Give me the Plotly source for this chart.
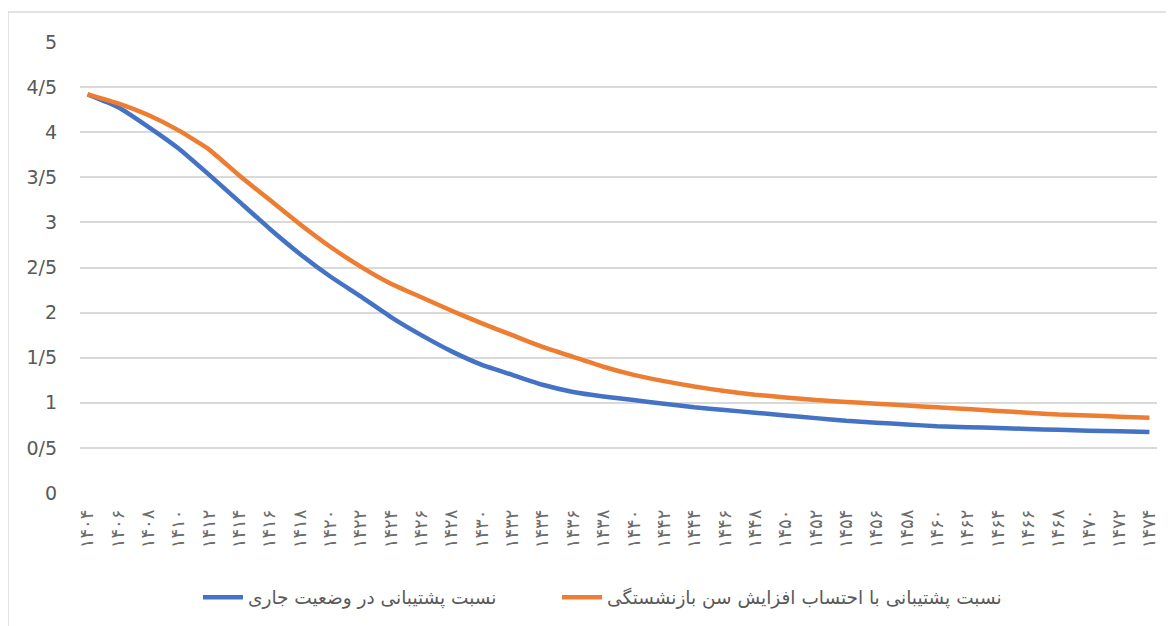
import plotly.graph_objects as go

years = list(range(1404, 1475, 2))
current = [4.42, 4.28, 4.06, 3.82, 3.53, 3.23, 2.93, 2.65, 2.40, 2.18,
           1.95, 1.75, 1.57, 1.42, 1.31, 1.20, 1.12, 1.07, 1.03, 0.99,
           0.95, 0.92, 0.89, 0.86, 0.83, 0.80, 0.78, 0.76, 0.74, 0.73,
           0.72, 0.71, 0.70, 0.69, 0.685, 0.675]
retire = [4.42, 4.32, 4.19, 4.02, 3.81, 3.52, 3.25, 2.98, 2.73, 2.51,
          2.32, 2.17, 2.02, 1.88, 1.75, 1.62, 1.51, 1.40, 1.31, 1.24,
          1.18, 1.13, 1.09, 1.06, 1.03, 1.01, 0.99, 0.97, 0.95, 0.93,
          0.91, 0.89, 0.87, 0.86, 0.845, 0.835]
name_current = "نسبت پشتیبانی در وضعیت جاری"
name_retire = "نسبت پشتیبانی با احتساب افزایش سن بازنشستگی"
y_ticks = [0, 0.5, 1, 1.5, 2, 2.5, 3, 3.5, 4, 4.5, 5]
y_ticktext = ["0", "0/5", "1", "1/5", "2", "2/5", "3", "3/5", "4", "4/5", "5"]

fa = str.maketrans("0123456789", "۰۱۲۳۴۵۶۷۸۹")
x_ticktext = [str(y).translate(fa) for y in years]

fig = go.Figure()
fig.add_trace(go.Scatter(x=years, y=current, mode="lines", name=name_current, legend="legend",
                         line=dict(color="#4472C4", width=4.5, shape="spline", smoothing=0.4)))
fig.add_trace(go.Scatter(x=years, y=retire, mode="lines", name=name_retire, legend="legend2",
                         line=dict(color="#ED7D31", width=4.5, shape="spline", smoothing=0.4)))

legend_style = dict(orientation="h", xanchor="left", y=-0.232, yanchor="middle",
                    font=dict(size=18.5, color="#595959"), itemwidth=40,
                    bgcolor="rgba(0,0,0,0)")

# page body has an 8px margin: figure origin sits at page (8, 8)
fig.update_layout(
    width=1166, height=618,
    margin=dict(l=72, r=17, t=34, b=133, autoexpand=False),
    paper_bgcolor="white", plot_bgcolor="white",
    font=dict(family="DejaVu Sans, Noto Sans", color="#595959"),
    showlegend=True,
    legend=dict(x=(198 - 80) / 1077, **legend_style),
    legend2=dict(x=(557 - 80) / 1077, **legend_style),
    shapes=[dict(type="rect", xref="paper", yref="paper",
                 x0=(0 - 72) / 1077, x1=1.2, y0=-0.5, y1=(485 - 4) / 451,
                 line=dict(color="#D9D9D9", width=1.5), fillcolor="rgba(0,0,0,0)", layer="below")],
)
fig.update_xaxes(range=[1403.5, 1474.5], tickmode="array", tickvals=years, ticktext=x_ticktext,
                 tickangle=-90, showgrid=False, zeroline=False, showline=False, automargin=False,
                 tickfont=dict(size=18, color="#6b6b6b"), ticklabelstandoff=12)
fig.update_yaxes(range=[0, 5], tickmode="array", tickvals=y_ticks, ticktext=y_ticktext,
                 showgrid=True, gridcolor="#D9D9D9", gridwidth=1.5, zeroline=False, showline=False,
                 automargin=False,
                 tickfont=dict(size=19, color="#595959"), ticklabelstandoff=22)

fig.write_html("out.html")
